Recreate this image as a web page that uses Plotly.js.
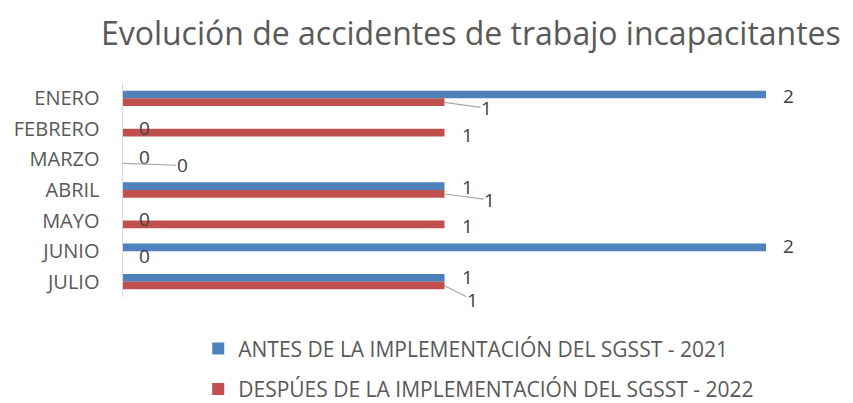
<!DOCTYPE html>
<html>
<head>
<meta charset="utf-8">
<script src="https://cdn.plot.ly/plotly-3.0.1.min.js"></script>
<style>html,body{margin:0;padding:0;background:#fff;}#chart{width:853px;height:403px;}</style>
</head>
<body>
<div id="chart"></div>
<script>
// ---- data ----
const categories = ["ENERO", "FEBRERO", "MARZO", "ABRIL", "MAYO", "JUNIO", "JULIO"];
const antes2021 = [2, 0, 0, 1, 0, 2, 1];
const despues2022 = [1, 1, 0, 1, 1, 0, 1];
const seriesNames = ["ANTES DE LA IMPLEMENTACIÓN DEL SGSST - 2021", "DESPÚES DE LA IMPLEMENTACIÓN DEL SGSST - 2022"];
const chartTitle = "Evolución de accidentes de trabajo incapacitantes";

// ---- label placement (pixel offsets; leader=true draws a leader line) ----
const antesLabelPos = [
  {dx: 22, dy: -2}, {dx: 21, dy: -1}, {dx: 21, dy: -2}, {dx: 23, dy: -3},
  {dx: 21, dy: -2}, {dx: 22, dy: -5}, {dx: 23, dy: -5}
];
const despuesLabelPos = [
  {leader: true, ax: 42, ay: 6}, {dx: 23, dy: 6}, {leader: true, ax: 59, ay: 2},
  {leader: true, ax: 45, ay: 6}, {dx: 23, dy: 5}, {dx: 21, dy: 5},
  {leader: true, ax: 28, ay: 14}
];

const FONT = "Open Sans, Noto Sans, sans-serif";
const labelFont = {family: FONT, size: 19, color: "#404040"};

const annotations = [];
categories.forEach((c, i) => {
  const pa = antesLabelPos[i];
  annotations.push({x: antes2021[i], y: c, xref: "x", yref: "y", text: String(antes2021[i]),
    showarrow: false, xshift: pa.dx, yshift: -pa.dy, font: labelFont, borderpad: 0});
  const pd = despuesLabelPos[i];
  if (pd.leader) {
    annotations.push({x: despues2022[i], y: c, xref: "x", yref: "y", text: String(despues2022[i]),
      showarrow: true, arrowhead: 0, arrowwidth: 1.2, arrowcolor: "#a6a6a6",
      standoff: 0, startstandoff: 0, ax: pd.ax, ay: pd.ay, yshift: -4, font: labelFont, borderpad: 0});
  } else {
    annotations.push({x: despues2022[i], y: c, xref: "x", yref: "y", text: String(despues2022[i]),
      showarrow: false, xshift: pd.dx, yshift: -pd.dy, font: labelFont, borderpad: 0});
  }
});

const traces = [
  {type: "bar", orientation: "h", name: seriesNames[0], y: categories, x: antes2021,
   marker: {color: "#4F81BD"}, legendgroup: "a", hoverinfo: "x+y"},
  {type: "bar", orientation: "h", name: seriesNames[1], y: categories, x: despues2022,
   marker: {color: "#C0504D"}, legendgroup: "b", hoverinfo: "x+y"}
];

const layout = {
  width: 853, height: 403,
  margin: {l: 123, r: 87, t: 83, b: 106, pad: 0, autoexpand: false},
  paper_bgcolor: "#ffffff", plot_bgcolor: "#ffffff",
  title: {text: chartTitle, font: {family: FONT, size: 32, color: "#595959"},
          x: 0.541, xanchor: "center", y: 0.915, yanchor: "middle", xref: "paper"},
  barmode: "group", bargap: 0.5, bargroupgap: 0,
  xaxis: {range: [0, 2], autorange: false, showgrid: false, zeroline: false, showticklabels: false, ticks: "", showline: false, fixedrange: true},
  yaxis: {range: [categories.length - 0.5, -0.5], autorange: false, type: "category", showgrid: false, zeroline: false, showline: true,
          linecolor: "#d9d9d9", linewidth: 1.5, ticks: "", ticklen: 0,
          tickfont: {family: FONT, size: 20, color: "#595959"}, ticklabelstandoff: 18},
  showlegend: true,
  legend: {orientation: "v", x: 0.117, xanchor: "left", y: -0.147, yanchor: "top",
           font: {family: FONT, size: 21, color: "#595959"}, tracegroupgap: 10,
           traceorder: "grouped", itemwidth: 30, bgcolor: "rgba(0,0,0,0)"},
  annotations: annotations
};

Plotly.newPlot("chart", traces, layout, {displayModeBar: false, staticPlot: true});
</script>
</body>
</html>
